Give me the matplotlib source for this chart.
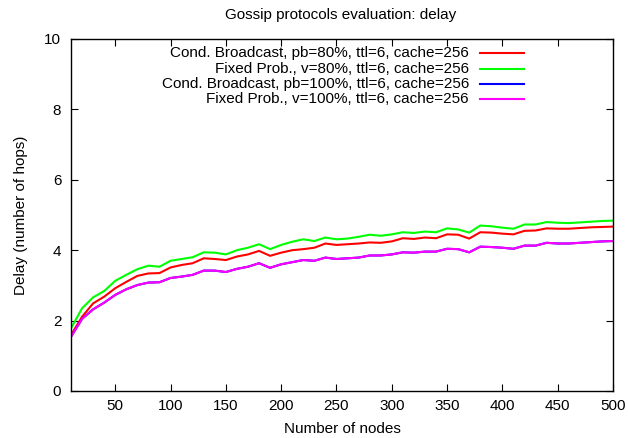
import matplotlib
matplotlib.use("Agg")
import matplotlib.pyplot as plt
import numpy as np

plt.rcParams['font.family'] = ['Liberation Sans', 'DejaVu Sans']

nodes = list(range(10, 501, 10))

cond_pb80 = [1.59, 2.11, 2.49, 2.68, 2.92, 3.10, 3.27, 3.34, 3.35, 3.51,
             3.58, 3.63, 3.77, 3.75, 3.72, 3.82, 3.88, 3.98, 3.84, 3.93,
             4.00, 4.03, 4.07, 4.19, 4.15, 4.17, 4.19, 4.22, 4.21, 4.25,
             4.34, 4.32, 4.36, 4.34, 4.45, 4.44, 4.33, 4.51, 4.50, 4.47,
             4.45, 4.55, 4.56, 4.62, 4.61, 4.61, 4.63, 4.65, 4.66, 4.67]

fixed_v80 = [1.78, 2.35, 2.66, 2.84, 3.13, 3.30, 3.46, 3.56, 3.53, 3.70,
             3.75, 3.80, 3.94, 3.93, 3.88, 4.00, 4.07, 4.17, 4.03, 4.15,
             4.24, 4.31, 4.26, 4.36, 4.31, 4.33, 4.38, 4.44, 4.41, 4.45,
             4.51, 4.49, 4.53, 4.51, 4.62, 4.59, 4.50, 4.70, 4.68, 4.64,
             4.61, 4.73, 4.73, 4.80, 4.78, 4.77, 4.79, 4.81, 4.83, 4.84]

cond_pb100 = [1.54, 2.05, 2.32, 2.51, 2.73, 2.89, 3.01, 3.08, 3.09, 3.21,
              3.25, 3.30, 3.42, 3.42, 3.38, 3.47, 3.53, 3.63, 3.50, 3.60,
              3.66, 3.72, 3.70, 3.79, 3.75, 3.77, 3.79, 3.85, 3.85, 3.88,
              3.94, 3.93, 3.96, 3.96, 4.04, 4.03, 3.94, 4.10, 4.09, 4.07,
              4.04, 4.13, 4.13, 4.21, 4.19, 4.19, 4.21, 4.23, 4.25, 4.26]

fixed_v100 = [1.54, 2.05, 2.32, 2.51, 2.73, 2.89, 3.01, 3.08, 3.09, 3.21,
              3.25, 3.30, 3.42, 3.42, 3.38, 3.47, 3.53, 3.63, 3.50, 3.60,
              3.66, 3.72, 3.70, 3.79, 3.75, 3.77, 3.79, 3.85, 3.85, 3.88,
              3.94, 3.93, 3.96, 3.96, 4.04, 4.03, 3.94, 4.10, 4.09, 4.07,
              4.04, 4.13, 4.13, 4.21, 4.19, 4.19, 4.21, 4.23, 4.25, 4.26]

labels = ["Cond. Broadcast, pb=80%, ttl=6, cache=256",
          "Fixed Prob., v=80%, ttl=6, cache=256",
          "Cond. Broadcast, pb=100%, ttl=6, cache=256",
          "Fixed Prob., v=100%, ttl=6, cache=256"]
series = [cond_pb80, fixed_v80, cond_pb100, fixed_v100]
colors = ["#ff0000", "#00ff00", "#0000ff", "#ff00ff"]

xticks = [50, 100, 150, 200, 250, 300, 350, 400, 450, 500]
yticks = [0, 2, 4, 6, 8, 10]

FS = 11

fig = plt.figure(figsize=(6.28, 4.38), dpi=100)
ax = fig.add_axes([71/628, 1-391/438, (613-71)/628, (391-39)/438])

for ys, c in zip(series, colors):
    ax.plot(nodes, ys, color=c, lw=1.5, solid_joinstyle='miter')

ax.set_xlim(10, 500)
ax.set_ylim(0, 10)
ax.set_xticks(xticks)
ax.set_yticks(yticks)
ax.tick_params(direction='in', length=5, width=0.8, top=True, right=True,
               labelsize=FS, pad=6, colors='black')
ax.tick_params(axis='y', pad=7)
for s in ax.spines.values():
    s.set_linewidth(1.0)

ax.set_xlabel("Number of nodes", fontsize=FS, labelpad=6)
ax.set_ylabel("Delay (number of hops)", fontsize=FS, labelpad=12)
fig.text(341/628, 1-15/438, "Gossip protocols evaluation: delay",
         ha='center', va='center', fontsize=FS)

# legend (gnuplot style: right-aligned text, sample line to the right)
row_y = [53.3, 69.0, 84.3, 99.3]
for lab, c, yp in zip(labels, colors, row_y):
    yf = 1 - yp/438
    fig.text(469/628, yf, lab, ha='right', va='center', fontsize=FS)
    fig.add_artist(plt.Line2D([480/628, 524/628], [yf, yf], color=c, lw=1.5))

fig.savefig("out.png", dpi=100)
